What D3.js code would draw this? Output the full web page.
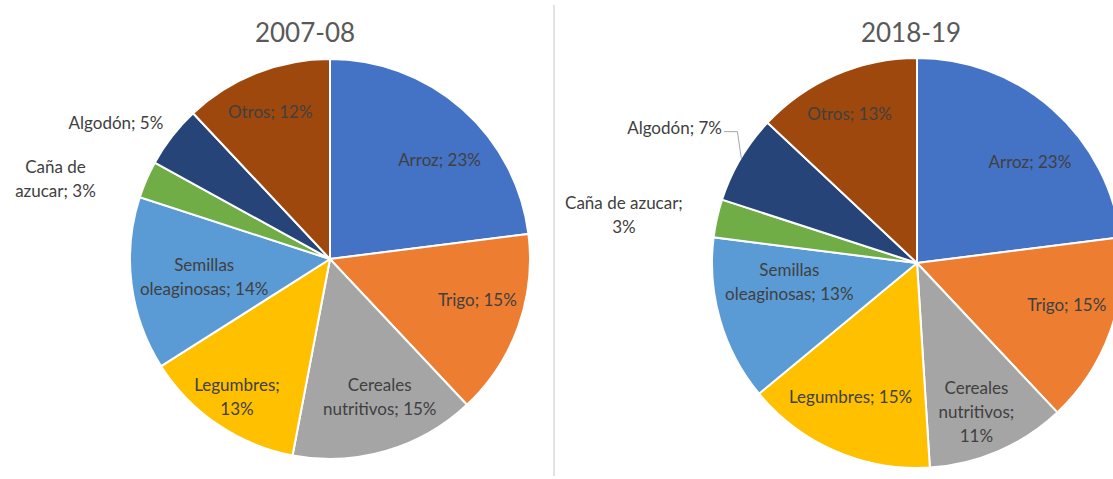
<!DOCTYPE html>
<html>
<head>
<meta charset="utf-8">
<script src="https://cdn.jsdelivr.net/npm/d3@7"></script>
<style>
    body { margin: 0; background: #ffffff; }
    svg { display: block; }
    text { font-family: Lato, "Noto Sans", sans-serif; }
</style>
</head>
<body>
<div id="graph"></div>
<script>
// data
const categories = ['Arroz', 'Trigo', 'Cereales nutritivos', 'Legumbres',
    'Semillas oleaginosas', 'Caña de azucar', 'Algodón', 'Otros'];
const values0708 = [23, 15, 15, 13, 14, 3, 5, 12];
const values1819 = [23, 15, 11, 15, 13, 3, 7, 13];
const titles = ['2007-08', '2018-19'];
const colors = ['#4472C4', '#ED7D31', '#A5A5A5', '#FFC000',
    '#5B9BD5', '#70AD47', '#264478', '#9E480E'];

// label layout: [dx, dy, wrap width, outside, leader]
const layout0708 = [
    [13, 11, 300, false, false],
    [10, -8, 300, false, false],
    [9, -2, 125, false, false],
    [-11, 17, 100, false, false],
    [19, 0, 140, false, false],
    [-91, -1, 95, true, false],
    [-56, -13, 300, true, false],
    [-6, -11, 300, false, false]
];
const layout1819 = [
    [14, 11, 300, false, false],
    [9, -9, 300, false, false],
    [0, 12, 85, false, false],
    [-7, -3, 300, false, false],
    [16, -23, 140, false, false],
    [-93, -3, 125, true, false],
    [-66, -31, 300, true, true],
    [-8, -12, 300, false, false]
];

const width = 1113;
const height = 479;
const lineHeight = 24;

let svg = d3.select('#graph')
    .append('svg')
    .attr('width', width)
    .attr('height', height);

// divider
svg.append('line')
    .attr('x1', 554).attr('x2', 554)
    .attr('y1', 5).attr('y2', 476)
    .attr('stroke', '#d9d9d9')
    .attr('stroke-width', 1.5);

function wrapWords(textSel, words, maxWidth) {
    // greedy wrap using measured widths
    let lines = [];
    let current = '';
    const probe = textSel.append('tspan');
    words.forEach(function(w){
        const trial = current ? current + ' ' + w : w;
        probe.text(trial);
        if (current && probe.node().getComputedTextLength() > maxWidth) {
            lines.push(current);
            current = w;
        } else {
            current = trial;
        }
    });
    if (current) lines.push(current);
    probe.remove();
    return lines;
}

function drawPie(values, title, layout, cx, cy, radius, titleX) {
    const stats = categories.map((c, i) => ({ name: c, value: values[i], color: colors[i], lay: layout[i] }));

    svg.append('text')
        .attr('x', titleX)
        .attr('y', 42)
        .attr('text-anchor', 'middle')
        .attr('font-size', 26)
        .attr('fill', '#595959')
        .text(title);

    const pie = d3.pie()
        .sort(null)
        .value((d) => d.value);

    const arc = d3.arc()
        .innerRadius(0)
        .outerRadius(radius);

    const arcs = pie(stats);

    let g = svg.append('g')
        .attr('transform', `translate(${cx},${cy})`);

    g.selectAll('path')
        .data(arcs)
        .enter()
        .append('path')
        .attr('d', arc)
        .attr('fill', (d) => d.data.color)
        .attr('stroke', '#ffffff')
        .attr('stroke-width', 2);

    const labelR = radius * 0.73;

    arcs.forEach(function(d){
        const mid = (d.startAngle + d.endAngle) / 2;
        const r = d.data.lay[3] ? radius : labelR;
        const ax = Math.sin(mid) * r;
        const ay = -Math.cos(mid) * r;
        const lx = ax + d.data.lay[0];
        const ly = ay + d.data.lay[1];

        let t = g.append('text')
            .attr('text-anchor', 'middle')
            .attr('font-size', 17)
            .attr('fill', '#404040');

        const words = (d.data.name + '; ' + d.data.value + '%').split(' ');
        const lines = wrapWords(t, words, d.data.lay[2]);
        const top = ly - (lines.length - 1) * lineHeight / 2 + 6;

        lines.forEach(function(line, k){
            t.append('tspan')
                .attr('x', lx)
                .attr('y', top + k * lineHeight)
                .text(line);
        });

        if (d.data.lay[4]) {
            const tw = t.node().getBBox().width;
            const ex = Math.sin(mid) * (radius - 1);
            const ey = -Math.cos(mid) * (radius - 1);
            const startX = lx + tw / 2 + 2;
            g.append('polyline')
                .attr('points', `${startX},${ly + 4} ${ex - 4},${ly + 4} ${ex},${ey}`)
                .attr('fill', 'none')
                .attr('stroke', '#a6a6a6')
                .attr('stroke-width', 1);
        }
    });
}

drawPie(values0708, titles[0], layout0708, 330, 259, 200, 305);
drawPie(values1819, titles[1], layout1819, 917, 263, 205, 911);
</script>
</body>
</html>
